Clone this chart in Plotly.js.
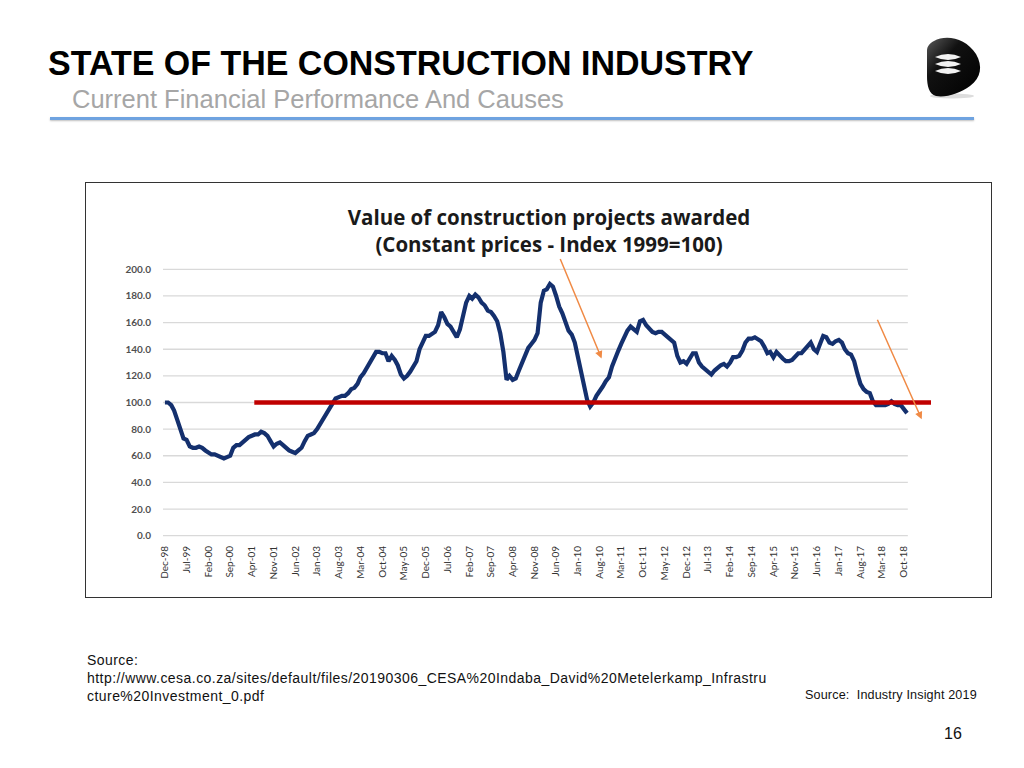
<!DOCTYPE html>
<html>
<head>
<meta charset="utf-8">
<script src="https://cdn.plot.ly/plotly-3.0.1.min.js"></script>
<style>
  html, body { margin: 0; padding: 0; background: #ffffff; }
  #page { position: relative; width: 1024px; height: 768px; overflow: hidden; background: #fff; }
  .txt { position: absolute; white-space: pre; font-family: "Liberation Sans", Arial, sans-serif; line-height: 1; }
  #chartbox { position: absolute; left: 85px; top: 182px; width: 905px; height: 414px; border: 1px solid #333; }
  #plot { position: absolute; left: 0; top: 0; width: 1024px; height: 768px; }
  #logo { position: absolute; left: 922px; top: 34px; }
</style>
</head>
<body>
<div id="page">
  <div class="txt" id="t1" style="left:48px; top:45px; font-size:35px; font-weight:bold; color:#000; transform:scaleX(0.971); transform-origin:left top;">STATE OF THE CONSTRUCTION INDUSTRY</div>
  <div class="txt" id="t2" style="left:72px; top:87px; font-size:25.5px; color:#a6a6a6;">Current Financial Performance And Causes</div>
  <div style="position:absolute; left:50px; top:117px; width:924px; height:3px; background:#6fa3e0; box-shadow:0 1px 2px rgba(0,0,0,0.25);"></div>
  <svg id="logo" width="66" height="66" viewBox="0 0 66 66">
    <defs>
      <linearGradient id="lg" x1="0" y1="0" x2="1" y2="1">
        <stop offset="0" stop-color="#5a5a5a"/>
        <stop offset="0.35" stop-color="#111"/>
        <stop offset="1" stop-color="#000"/>
      </linearGradient>
    </defs>
    <ellipse cx="30" cy="62" rx="22" ry="2.5" fill="#ddd"/>
    <path d="M12 7 C24 0 44 4 54 20 C61 32 59 44 48 52 C38 59 24 64 14 62 C7 60 5 52 5 42 L5 17 C5 12 8 9 12 7 Z" fill="url(#lg)"/>
    <path d="M13 23 Q26 17 39 23 Q26 29 13 23 Z" fill="#f2f2f2"/>
    <path d="M13 30 Q26 24 39 30 Q26 36 13 30 Z" fill="#f2f2f2"/>
    <path d="M13 37 Q26 31 39 37 Q26 43 13 37 Z" fill="#f2f2f2"/>
  </svg>
  <div id="chartbox"></div>
  <div class="txt" style="left:87px; top:651px; font-size:14px; letter-spacing:0.45px; line-height:18px; color:#111;">Source:
http://www.cesa.co.za/sites/default/files/20190306_CESA%20Indaba_David%20Metelerkamp_Infrastru
cture%20Investment_0.pdf</div>
  <div class="txt" style="left:805px; top:689px; font-size:12.6px; letter-spacing:0.15px; color:#111;">Source:  Industry Insight 2019</div>
  <div class="txt" style="left:944px; top:726px; font-size:16px; color:#111;">16</div>
  <div id="plot"></div>
</div>
<script>
// ---- Data ----
const startMonth = [1998, 12]; // first observation: Dec-98
const indexValues = [
  100,100,98,94,87,79,73,72,67,66,
  66,67,66,64,62,61,61,60,59,58,
  59,60,66,68,68,70,73,74,75,76,
  76,78,77,75,71,67,69,70,68,66,
  64,63,62,64,66,71,75,76,77,80,
  84,87,91,95,99,103,104,105,105,107,
  110,111,114,119,122,126,130,134,138,138,
  137,137,131,135,132,128,121,118,120,123,
  127,131,140,146,150,150,152,153,158,168,
  164,159,157,152,149,155,166,175,180,178,
  181,179,175,173,169,168,165,161,152,138,
  117,120,117,118,124,130,135,141,144,147,
  152,175,184,185,189,187,180,172,167,159,
  154,151,145,134,124,112,102,97,100,105,
  108,112,116,119,127,134,139,144,149,154,
  157,155,153,161,162,158,155,153,152,153,
  153,151,149,147,145,135,130,131,129,133,
  137,137,130,127,125,123,121,124,126,128,
  129,127,130,134,134,135,139,145,148,148,
  149,147,146,142,137,138,134,138,135,133,
  131,131,132,135,137,137,140,142,145,140,
  138,144,150,149,145,144,146,147,145,140,
  137,136,131,122,114,110,108,107,101,98,
  98,98,98,99,101,99,98,98,95,92
];
const tickDates = ['1998-12-01','1999-07-01','2000-02-01','2000-09-01','2001-04-01','2001-11-01','2002-06-01','2003-01-01','2003-08-01','2004-03-01','2004-10-01','2005-05-01','2005-12-01','2006-07-01','2007-02-01','2007-09-01','2008-04-01','2008-11-01','2009-06-01','2010-01-01','2010-08-01','2011-03-01','2011-10-01','2012-05-01','2012-12-01','2013-07-01','2014-02-01','2014-09-01','2015-04-01','2015-11-01','2016-06-01','2017-01-01','2017-08-01','2018-03-01','2018-10-01'];
const tickLabels = ['Dec-98','Jul-99','Feb-00','Sep-00','Apr-01','Nov-01','Jun-02','Jan-03','Aug-03','Mar-04','Oct-04','May-05','Dec-05','Jul-06','Feb-07','Sep-07','Apr-08','Nov-08','Jun-09','Jan-10','Aug-10','Mar-11','Oct-11','May-12','Dec-12','Jul-13','Feb-14','Sep-14','Apr-15','Nov-15','Jun-16','Jan-17','Aug-17','Mar-18','Oct-18'];
const yTicks = [0,20,40,60,80,100,120,140,160,180,200];
const baselineDates = ['2001-04-25','2019-06-24'];
const baselineValues = [100,100];

// ---- Build monthly dates ----
const monthDates = indexValues.map(function(v, i) {
  const total = startMonth[0] * 12 + (startMonth[1] - 1) + i;
  const y = Math.floor(total / 12), m = total % 12 + 1;
  return y + '-' + (m < 10 ? '0' + m : m) + '-01';
});

const xRange = ['1998-11-12', '2019-06-24'];
const gridEnd = '2018-11-09';

const shapes = yTicks.map(function(v) {
  return { type: 'line', xref: 'x', yref: 'y', x0: xRange[0], x1: gridEnd, y0: v, y1: v,
           line: { color: '#d9d9d9', width: 1.3 }, layer: 'below' };
});

const traces = [
  { x: monthDates, y: indexValues, type: 'scatter', mode: 'lines',
    line: { color: '#14306e', width: 4.2 }, hoverinfo: 'skip', showlegend: false },
  { x: baselineDates, y: baselineValues, type: 'scatter', mode: 'lines',
    line: { color: '#c00000', width: 4.5 }, hoverinfo: 'skip', showlegend: false }
];

const arrowStyle = { showarrow: true, arrowhead: 2, arrowsize: 1, arrowwidth: 1.5, arrowcolor: '#f08a45',
                     axref: 'pixel', ayref: 'pixel', text: '', xref: 'x', yref: 'y', standoff: 0 };

const layout = {
  width: 1024, height: 768,
  margin: { l: 163, r: 93, t: 268, b: 231, pad: 0 },
  paper_bgcolor: 'rgba(0,0,0,0)', plot_bgcolor: 'rgba(0,0,0,0)',
  showlegend: false,
  title: {
    text: 'Value of construction projects awarded<br>(Constant prices - Index 1999=100)',
    xref: 'container', yref: 'container', x: 549 / 1024, xanchor: 'center',
    y: 1 - 225 / 768, yanchor: 'top',
    font: { family: '"Open Sans", Lato, sans-serif', size: 20.5, color: '#1a1a1a', weight: 'bold' }
  },
  xaxis: {
    type: 'date', range: xRange, tickvals: tickDates, ticktext: tickLabels, tickangle: -90,
    showgrid: false, zeroline: false, showline: false,
    ticks: 'outside', ticklen: 4, tickcolor: 'rgba(0,0,0,0)',
    tickfont: { family: 'Lato, sans-serif', size: 10, color: '#333333' },
    fixedrange: true
  },
  yaxis: {
    range: [-1, 201], tickvals: yTicks, tickformat: '.1f',
    showgrid: false, zeroline: false, showline: false,
    ticks: 'outside', ticklen: 9, tickcolor: 'rgba(0,0,0,0)',
    tickfont: { family: 'Lato, sans-serif', size: 10, color: '#505050', weight: 'bold' },
    fixedrange: true
  },
  shapes: shapes,
  annotations: [
    Object.assign({}, arrowStyle, { x: '2010-08-21', y: 133, ax: -42, ay: -101 }),
    Object.assign({}, arrowStyle, { x: '2019-03-25', y: 87.4, ax: -45, ay: -101 })
  ]
};

Plotly.newPlot('plot', traces, layout, { staticPlot: true, displayModeBar: false });
</script>
</body>
</html>
